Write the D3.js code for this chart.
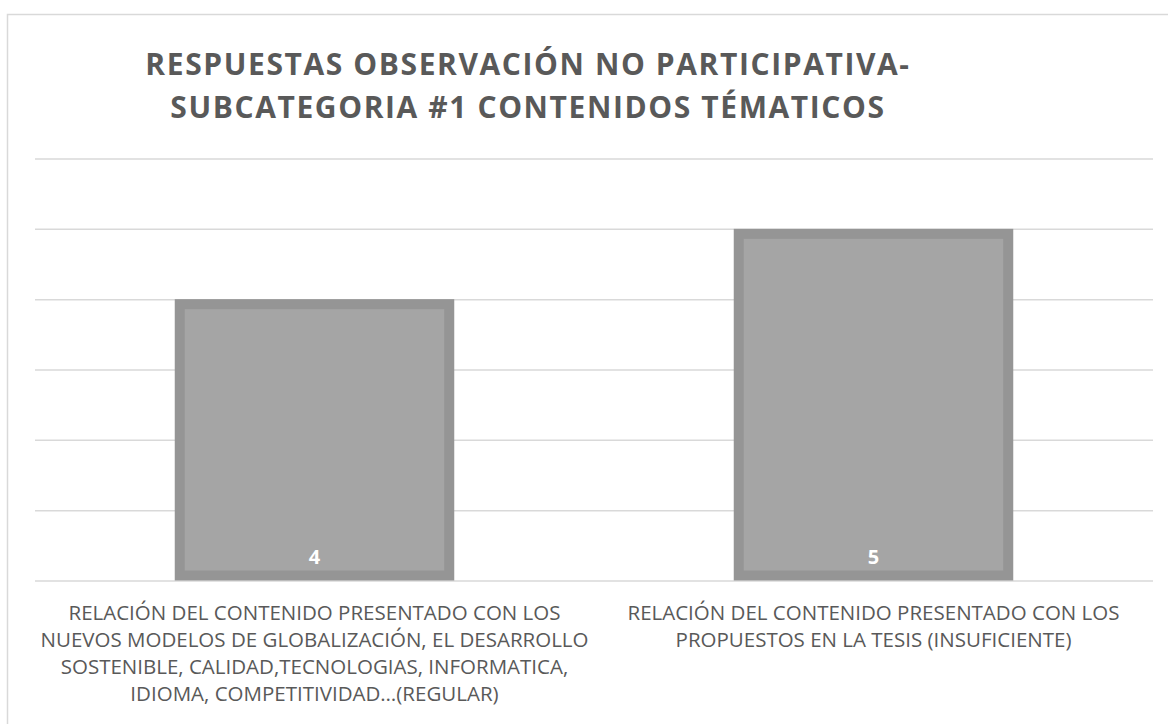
<!DOCTYPE html>
<html>
<head>
<meta charset="utf-8">
<script src="https://cdn.jsdelivr.net/npm/d3@7"></script>
<style>
  html, body { margin: 0; padding: 0; background: #fff; }
  svg { display: block; }
</style>
</head>
<body>
<svg id="chart" width="1168" height="724"></svg>
<script>
const titleLines = ["RESPUESTAS OBSERVACIÓN NO PARTICIPATIVA-", "SUBCATEGORIA #1 CONTENIDOS TÉMATICOS"];
const categories = [
  "RELACIÓN DEL CONTENIDO PRESENTADO CON LOS\nNUEVOS MODELOS DE GLOBALIZACIÓN, EL DESARROLLO\nSOSTENIBLE, CALIDAD,TECNOLOGIAS, INFORMATICA,\nIDIOMA, COMPETITIVIDAD…(REGULAR)",
  "RELACIÓN DEL CONTENIDO PRESENTADO CON LOS\nPROPUESTOS EN LA TESIS (INSUFICIENTE)"
];
const values = [4, 5];
const yTicks = [0, 1, 2, 3, 4, 5, 6];

const svg = d3.select("#chart");
const plot = { left: 35, right: 1153, top: 158.5, bottom: 580.5 };

// chart frame
svg.append("rect")
  .attr("x", 7.5).attr("y", 14.5)
  .attr("width", 1200).attr("height", 800)
  .attr("fill", "#fff").attr("stroke", "#d9d9d9").attr("stroke-width", 1.5);

const x = d3.scaleBand().domain(d3.range(categories.length))
  .range([plot.left, plot.right]).paddingInner(0.5).paddingOuter(0.25);
const y = d3.scaleLinear().domain([0, 6]).range([plot.bottom, plot.top]);

// gridlines
const grid = svg.append("g").attr("transform", `translate(${plot.left},0)`)
  .call(d3.axisLeft(y).tickValues(yTicks).tickSize(-(plot.right - plot.left)).tickFormat(""));
grid.select(".domain").remove();
grid.selectAll(".tick line").attr("stroke", "#d9d9d9").attr("stroke-width", 1.5);

// bars
const bw = 10;
const bars = svg.append("g").selectAll("g").data(values).join("g");
bars.append("rect")
  .attr("x", (d, i) => x(i) + bw / 2)
  .attr("y", d => y(d) + bw / 2)
  .attr("width", x.bandwidth() - bw)
  .attr("height", d => y(0) - y(d) - bw)
  .attr("fill", "#a5a5a5")
  .attr("stroke", "#959595")
  .attr("stroke-width", bw);

// value labels
bars.append("text")
  .attr("x", (d, i) => x(i) + x.bandwidth() / 2)
  .attr("y", y(0) - 17)
  .attr("text-anchor", "middle")
  .attr("font-family", "'Open Sans', sans-serif")
  .attr("font-weight", "bold")
  .attr("font-size", 20)
  .attr("fill", "#ffffff")
  .text(d => d);

// category labels
const cat = svg.append("g").selectAll("text").data(categories).join("text")
  .attr("x", (d, i) => x(i) + x.bandwidth() / 2)
  .attr("text-anchor", "middle")
  .attr("font-family", "'Open Sans', sans-serif")
  .attr("font-size", 20.5)
  .attr("fill", "#595959");
cat.each(function(d) {
  const t = d3.select(this);
  d.split("\n").forEach((line, j) => {
    t.append("tspan").attr("x", t.attr("x")).attr("y", 620 + j * 27).text(line);
  });
});

// title
svg.append("text")
  .attr("text-anchor", "middle")
  .attr("font-family", "'Open Sans', sans-serif")
  .attr("font-weight", "bold")
  .attr("font-size", 30)
  .attr("letter-spacing", 1.6)
  .attr("fill", "#595959")
  .selectAll("tspan").data(titleLines).join("tspan")
  .attr("x", 528)
  .attr("y", (d, i) => 75 + i * 43)
  .text(d => d);
</script>
</body>
</html>
